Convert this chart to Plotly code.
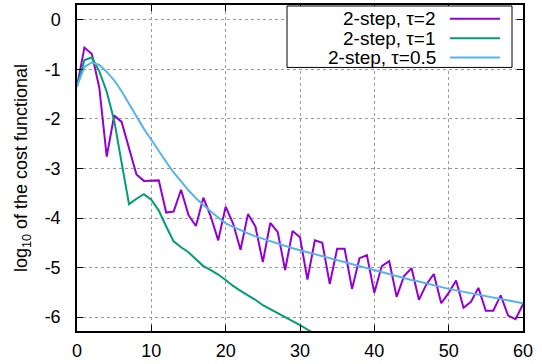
import plotly.graph_objects as go

# ---- data ----
iters = list(range(0, 61))

tau2 = [-1.34, -0.56, -0.69, -1.37, -2.76, -1.93, -2.06, -2.60, -3.12, -3.25,
        -3.25, -3.24, -3.89, -3.87, -3.43, -3.94, -4.16, -3.59, -3.97, -4.45,
        -3.77, -4.11, -4.64, -3.92, -4.17, -4.89, -4.10, -4.28, -5.05, -4.26,
        -4.39, -5.24, -4.45, -4.50, -5.33, -4.62, -4.62, -5.43, -4.81, -4.75,
        -5.51, -4.97, -4.87, -5.59, -5.17, -5.01, -5.65, -5.34, -5.13, -5.72,
        -5.51, -5.26, -5.81, -5.69, -5.41, -5.87, -5.87, -5.56, -5.97, -6.04,
        -5.74]

iters_tau1 = list(range(0, 33))
tau1 = [-1.34, -0.81, -0.76, -1.04, -1.45, -2.03, -2.88, -3.72, -3.61, -3.52,
        -3.63, -3.85, -4.17, -4.47, -4.59, -4.69, -4.83, -4.97, -5.05, -5.14,
        -5.25, -5.37, -5.47, -5.56, -5.65, -5.76, -5.84, -5.91, -5.99, -6.07,
        -6.16, -6.25, -6.34]

tau05 = [-1.34, -0.95, -0.86, -0.91, -1.05, -1.22, -1.44, -1.69, -1.96, -2.20,
         -2.42, -2.65, -2.87, -3.08, -3.27, -3.44, -3.60, -3.74, -3.87, -3.99,
         -4.11, -4.18, -4.25, -4.31, -4.37, -4.42, -4.47, -4.52, -4.56, -4.61,
         -4.65, -4.69, -4.73, -4.77, -4.81, -4.85, -4.89, -4.93, -4.97, -5.02,
         -5.06, -5.10, -5.14, -5.17, -5.21, -5.25, -5.28, -5.32, -5.36, -5.39,
         -5.43, -5.46, -5.49, -5.52, -5.55, -5.58, -5.61, -5.64, -5.67, -5.70,
         -5.72]

series_names = ["2-step, τ=2", "2-step, τ=1", "2-step, τ=0.5"]
series_colors = ["#9400D3", "#009E73", "#56B4E9"]

x_tickvals = [0, 10, 20, 30, 40, 50, 60]
x_ticktext = ["0", "10", "20", "30", "40", "50", "60"]
y_tickvals = [0, -1, -2, -3, -4, -5, -6]
y_ticktext = ["0", "-1", "-2", "-3", "-4", "-5", "-6"]

# ---- figure ----
W, H = 542, 364
ML, MR, MT, MB = 77, 19, 3, 32
PW, PH = W - ML - MR, H - MT - MB

def px_x(px):
    return (px - ML) / PW

def px_y(py):
    return (H - MB - py) / PH

FONT = "Liberation Sans, Arial, sans-serif"

fig = go.Figure()
for xs, ys, name, col in [(iters, tau2, series_names[0], series_colors[0]),
                          (iters_tau1, tau1, series_names[1], series_colors[1]),
                          (iters, tau05, series_names[2], series_colors[2])]:
    fig.add_trace(go.Scatter(x=xs, y=ys, mode="lines", name=name,
                             line=dict(color=col, width=2), showlegend=False))

axis_common = dict(showline=True, linecolor="black", linewidth=1.5, mirror="ticks",
                   ticks="inside", ticklen=6, tickwidth=1, tickcolor="black",
                   showgrid=True, gridcolor="#9a9a9a", gridwidth=1, griddash="dot",
                   zeroline=False, tickfont=dict(family=FONT, size=18, color="black"))

fig.update_xaxes(range=[0, 60], tickvals=x_tickvals, ticktext=x_ticktext,
                 ticklabelstandoff=3, **axis_common)
fig.update_yaxes(range=[-6.28, 0.30], tickvals=y_tickvals, ticktext=y_ticktext,
                 ticklabelstandoff=11,
                 title=dict(text="log<sub>10</sub> of the cost functional",
                            font=dict(family=FONT, size=18, color="black"),
                            standoff=12),
                 **axis_common)

# manual gnuplot-style key (text right-aligned, sample on the right)
shapes = [dict(type="rect", xref="paper", yref="paper",
               x0=px_x(287), x1=px_x(512), y0=px_y(66), y1=px_y(4),
               line=dict(color="black", width=1), fillcolor="white", layer="above")]
annotations = []
rows_py = [17, 36.5, 56]
for name, col, py in zip(series_names, series_colors, rows_py):
    shapes.append(dict(type="line", xref="paper", yref="paper",
                       x0=px_x(450), x1=px_x(500), y0=px_y(py), y1=px_y(py),
                       line=dict(color=col, width=2), layer="above"))
    annotations.append(dict(xref="paper", yref="paper", x=px_x(438), y=px_y(py),
                            text=name, showarrow=False, xanchor="right", yanchor="middle",
                            font=dict(family=FONT, size=19, color="black")))

fig.update_layout(width=W, height=H, margin=dict(l=ML, r=MR, t=MT, b=MB),
                  plot_bgcolor="white", paper_bgcolor="white",
                  shapes=shapes, annotations=annotations, showlegend=False)

fig.write_html("out.html")
